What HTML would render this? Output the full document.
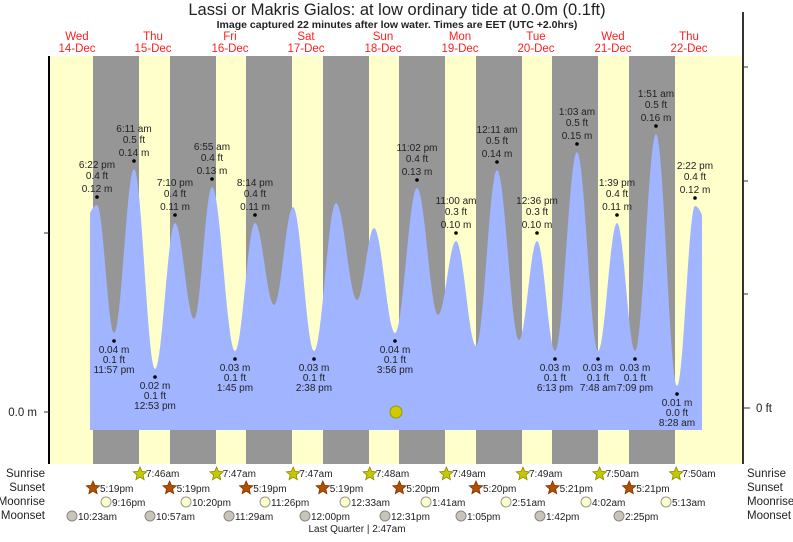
<!DOCTYPE html>
<html><head><meta charset="utf-8"><style>
body{margin:0;background:#fff;width:793px;height:537px;overflow:hidden;font-family:"Liberation Sans",sans-serif}
svg text{font-family:"Liberation Sans",sans-serif}
</style></head><body>
<svg id="s" width="793" height="537" xmlns="http://www.w3.org/2000/svg">
<rect x="49" y="56" width="694" height="408" fill="#ffffcc"/>
<g fill="#969696">
<rect x="93" y="56" width="46" height="408"/><rect x="170" y="56" width="46" height="408"/>
<rect x="246" y="56" width="46" height="408"/><rect x="323" y="56" width="46" height="408"/>
<rect x="399" y="56" width="46" height="408"/><rect x="476" y="56" width="46" height="408"/>
<rect x="552" y="56" width="46" height="408"/><rect x="629" y="56" width="46" height="408"/>
</g>
<path id="tide" fill="#a0b4ff" d=""/>
<line x1="49" y1="56" x2="49" y2="464" stroke="#000" stroke-width="2"/>
<line x1="743" y1="12" x2="743" y2="464" stroke="#333" stroke-width="2"/>
<g stroke="#333"><line x1="44" y1="233" x2="49" y2="233"/><line x1="44" y1="412" x2="49" y2="412"/>
<line x1="743" y1="67" x2="748" y2="67"/><line x1="743" y1="181" x2="748" y2="181"/><line x1="743" y1="294" x2="748" y2="294"/><line x1="743" y1="408" x2="750" y2="408"/></g>
<text x="37" y="416" font-size="11.5" text-anchor="end" fill="#222">0.0 m</text>
<text x="756" y="412" font-size="11.5" fill="#222">0 ft</text>
<circle cx="396" cy="412" r="6" fill="#cccc00" stroke="#999900"/>
<text x="397" y="15" font-size="16.5" text-anchor="middle" fill="#222">Lassi or Makris Gialos: at low  ordinary tide at 0.0m (0.1ft)</text>
<text x="397" y="28" font-size="10.5" font-weight="bold" text-anchor="middle" fill="#222">Image captured 22 minutes after low water. Times are EET (UTC +2.0hrs)</text>
<g id="days" font-size="11.5" fill="#ff2020" text-anchor="middle"></g>
<g id="lab" font-size="10" fill="#222" text-anchor="middle"></g>
<g font-size="11.5" fill="#222" text-anchor="end">
<text x="45" y="477">Sunrise</text><text x="45" y="491">Sunset</text><text x="45" y="505">Moonrise</text><text x="45" y="519">Moonset</text></g>
<g font-size="11.5" fill="#222">
<text x="747" y="477">Sunrise</text><text x="747" y="491">Sunset</text><text x="747" y="505">Moonrise</text><text x="747" y="519">Moonset</text></g>
<g id="astro" font-size="10" fill="#222"></g>
<text x="357" y="532" font-size="10" text-anchor="middle" fill="#222">Last Quarter | 2:47am</text>
</svg>
<script>
var NS="http://www.w3.org/2000/svg",svg=document.getElementById('s');
function el(p,t,a,txt){var e=document.createElementNS(NS,t);for(var k in a)e.setAttribute(k,a[k]);if(txt!=null)e.textContent=txt;p.appendChild(e);return e;}
var ex=[[97,205],[114,333],[134,169],[155,369],[175,223],[194,319],[212,187],[235,351],[255,223],[274,305],[293,207],[314,351],[336,203],[357,300],[374,228],[395,333],[417,188],[438,315],[456,241],[476,346],[497,170],[519,340],[537,241],[555,351],[577,152],[598,351],[617,223],[635,351],[656,134],[677,386],[695,206]];
var d="M90,430 L90,250 ";
var all=[[60,300]].concat(ex).concat([[735,330]]);
for(var i=0;i<all.length-1;i++){var p=all[i],q=all[i+1];
 for(var x=Math.ceil(p[0]);x<=q[0];x+=1){ if(x<90||x>702)continue;
  var t=(x-p[0])/(q[0]-p[0]);var y=p[1]+(q[1]-p[1])*(1-Math.cos(Math.PI*t))/2;d+="L"+x+","+y.toFixed(1)+" ";}}
d+="L702,430 Z";document.getElementById('tide').setAttribute('d',d);
var days=[["Wed","14-Dec",77],["Thu","15-Dec",153],["Fri","16-Dec",230],["Sat","17-Dec",306],["Sun","18-Dec",383],["Mon","19-Dec",460],["Tue","20-Dec",536],["Wed","21-Dec",613],["Thu","22-Dec",689]];
var g=document.getElementById('days');days.forEach(function(v){el(g,'text',{x:v[2],y:40},v[0]);el(g,'text',{x:v[2],y:52},v[1]);});
var L=document.getElementById('lab');
var hi=[[97,197,"6:22 pm","0.4 ft","0.12 m"],[134,161,"6:11 am","0.5 ft","0.14 m"],[175,215,"7:10 pm","0.4 ft","0.11 m"],[212,179,"6:55 am","0.4 ft","0.13 m"],[255,215,"8:14 pm","0.4 ft","0.11 m"],[417,180,"11:02 pm","0.4 ft","0.13 m"],[456,233,"11:00 am","0.3 ft","0.10 m"],[497,162,"12:11 am","0.5 ft","0.14 m"],[537,233,"12:36 pm","0.3 ft","0.10 m"],[577,144,"1:03 am","0.5 ft","0.15 m"],[617,215,"1:39 pm","0.4 ft","0.11 m"],[656,126,"1:51 am","0.5 ft","0.16 m"],[695,198,"2:22 pm","0.4 ft","0.12 m"]];
hi.forEach(function(v){el(L,'circle',{cx:v[0],cy:v[1],r:1.8,fill:'#000'});el(L,'text',{x:v[0],y:v[1]-29},v[2]);el(L,'text',{x:v[0],y:v[1]-18},v[3]);el(L,'text',{x:v[0],y:v[1]-5},v[4]);});
var lo=[[114,341,"0.04 m","0.1 ft","11:57 pm"],[155,377,"0.02 m","0.1 ft","12:53 pm"],[235,359,"0.03 m","0.1 ft","1:45 pm"],[314,359,"0.03 m","0.1 ft","2:38 pm"],[395,341,"0.04 m","0.1 ft","3:56 pm"],[555,359,"0.03 m","0.1 ft","6:13 pm"],[598,359,"0.03 m","0.1 ft","7:48 am"],[635,359,"0.03 m","0.1 ft","7:09 pm"],[677,394,"0.01 m","0.0 ft","8:28 am"]];
lo.forEach(function(v){el(L,'circle',{cx:v[0],cy:v[1],r:1.8,fill:'#000'});el(L,'text',{x:v[0],y:v[1]+12},v[2]);el(L,'text',{x:v[0],y:v[1]+22},v[3]);el(L,'text',{x:v[0],y:v[1]+32},v[4]);});
var A=document.getElementById('astro');
function star(cx,cy,f,s){var p="";for(var i=0;i<10;i++){var r=i%2?3.2:7,an=-Math.PI/2+i*Math.PI/5;p+=(cx+r*Math.cos(an)).toFixed(1)+","+(cy+r*Math.sin(an)).toFixed(1)+" ";}el(A,'polygon',{points:p,fill:f,stroke:s,'stroke-width':0.8});}
var sr=["7:46am","7:47am","7:47am","7:48am","7:49am","7:49am","7:50am","7:50am"];
sr.forEach(function(t,i){var x=140+i*76.6;star(x,474,'#c8c800','#888800');el(A,'text',{x:x+6,y:477},t);});
var ss=["5:19pm","5:19pm","5:19pm","5:19pm","5:20pm","5:20pm","5:21pm","5:21pm"];
ss.forEach(function(t,i){var x=93+i*76.6;star(x,488,'#b05000','#803000');el(A,'text',{x:x+7,y:492},t);});
var mr=[[106,"9:16pm"],[186,"10:20pm"],[265,"11:26pm"],[345,"12:33am"],[426,"1:41am"],[506,"2:51am"],[586,"4:02am"],[666,"5:13am"]];
mr.forEach(function(v){el(A,'circle',{cx:v[0],cy:502,r:5,fill:'#ffffc8',stroke:'#999'});el(A,'text',{x:v[0]+6,y:506},v[1]);});
var ms=[[72,"10:23am"],[150,"10:57am"],[229,"11:29am"],[305,"12:00pm"],[385,"12:31pm"],[461,"1:05pm"],[540,"1:42pm"],[619,"2:25pm"]];
ms.forEach(function(v){el(A,'circle',{cx:v[0],cy:516,r:5,fill:'#c8c4b8',stroke:'#888'});el(A,'text',{x:v[0]+6,y:520},v[1]);});
</script>
</body></html>
